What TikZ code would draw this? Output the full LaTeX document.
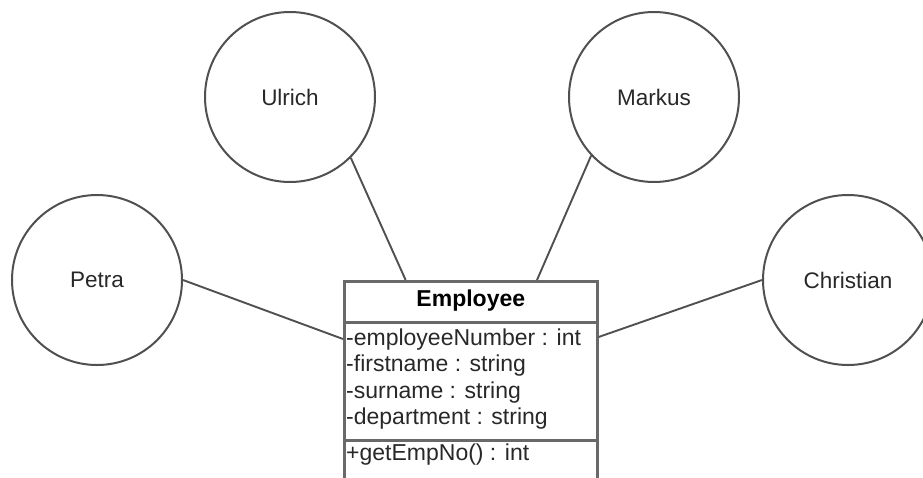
\documentclass[tikz,border=0pt]{standalone}
\usepackage{fontspec}
\setmainfont{Liberation Sans}
\usetikzlibrary{calc}
\definecolor{edge}{RGB}{80,80,80}
\definecolor{frame}{RGB}{105,105,105}
\definecolor{ink}{RGB}{40,40,40}
\begin{document}
\begin{tikzpicture}[x=1pt,y=-1pt,
  person/.style={circle,draw=edge,line width=2pt,minimum size=170pt,inner sep=0pt,
    font=\fontsize{22.5}{27}\selectfont,text=ink},
  link/.style={draw=edge,line width=1.9pt},
  member/.style={anchor=base west,inner sep=0pt,font=\fontsize{23}{27}\selectfont,text=ink},
  classbox/.style={draw=frame,line width=2.6pt,minimum width=253pt,minimum height=220pt,
    inner sep=0pt,anchor=north west},
  divider/.style={draw=frame,line width=3pt}]
\useasboundingbox (0,0) rectangle (923,477);
\clip (0,0) rectangle (923,477);

% people
\node[person] (ulrich)    at (290,97)  {Ulrich};
\node[person] (markus)    at (654,97)  {Markus};
\node[person] (petra)     at (97,280)  {Petra};
\node[person] (christian) at (848,280) {Christian};

% class box with its compartments
\node[classbox] (emp) at (343,280) {};
\draw[divider] ($(emp.north west)+(0,42)$) -- ($(emp.north east)+(0,42)$);
\draw[divider] ($(emp.north west)+(0,160)$) -- ($(emp.north east)+(0,160)$);

\node[member,anchor=base,font=\fontsize{23}{27}\selectfont\bfseries,text=black]
  (title) at ($(emp.north)+(0,26)$) {Employee};
\node[member] (a1) at ($(emp.north west)+(3,65)$)  {-employeeNumber : int};
\node[member] (a2) at ($(emp.north west)+(3,91)$)  {-firstname : string};
\node[member] (a3) at ($(emp.north west)+(3,118)$) {-surname : string};
\node[member] (a4) at ($(emp.north west)+(3,144)$) {-department : string};
\node[member] (m1) at ($(emp.north west)+(3,180)$) {+getEmpNo() : int};

% associations
\draw[link] (ulrich.-45) -- ($(emp.north west)!0.245!(emp.north east)$);
\draw[link] (markus.-137) -- ($(emp.north west)!0.759!(emp.north east)$);
\draw[link] (petra.east) -- ($(emp.north west)+(0,59)$);
\draw[link] (christian.west) -- ($(emp.north east)+(0,57)$);
\end{tikzpicture}
\end{document}
